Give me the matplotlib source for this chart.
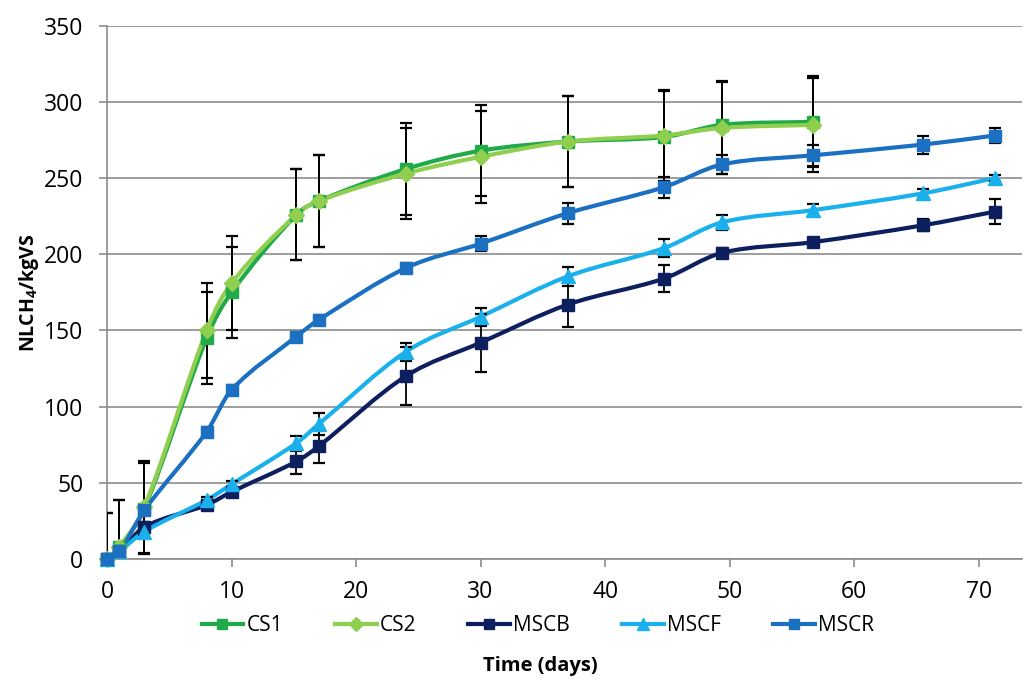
import numpy as np
import matplotlib
matplotlib.use("Agg")
import matplotlib.pyplot as plt
from matplotlib.path import Path
from matplotlib.patches import PathPatch
from matplotlib.lines import Line2D

plt.rcParams['font.family'] = ['Open Sans', 'DejaVu Sans']
plt.rcParams['mathtext.default'] = 'regular'

# sampling days
days_cs = [0, 1, 3, 8, 10, 15.2, 17, 24, 30, 37, 44.7, 49.4, 56.7]
days_ms = [0, 1, 3, 8, 10, 15.2, 17, 24, 30, 37, 44.7, 49.4, 56.7, 65.5, 71.3]

cs1 = [0, 8, 33, 145, 175, 226, 235, 256, 268, 274, 277, 285, 287]
cs1_err = [30, 31, 30, 30, 30, 30, 30, 30, 30, 30, 30, 29, 30]
cs2 = [0, 8, 34, 150, 181, 226, 235, 253, 264, 274, 278, 283, 285]
cs2_err = [30, 31, 30, 31, 31, 30, 30, 30, 30, 30, 30, 30, 31]

mscb = [0, 5, 21, 35.5, 44, 64, 74, 120, 142, 167, 184, 201, 208, 219, 228]
mscb_err = [0, 2, 3, 3, 3, 8, 11, 19, 19, 15, 9, 3, 3, 4, 8]
mscf = [0, 5, 18, 38.7, 49, 76, 88.5, 136, 159, 185.5, 204, 221, 229, 240, 250]
mscf_err = [0, 2, 2, 2, 2, 5, 7, 6, 6, 6, 6, 5, 4, 3, 2]
mscr = [0, 5, 32, 83.5, 111, 146, 157, 191, 207, 227, 244, 259, 265, 272, 278]
mscr_err = [0, 2, 3, 3, 3, 3, 3, 3, 5, 7, 7, 6, 7, 6, 5]

series = [
    ('CS1', days_cs, cs1, cs1_err, '#20AA4A', 's'),
    ('CS2', days_cs, cs2, cs2_err, '#90CE50', 'D'),
    ('MSCB', days_ms, mscb, mscb_err, '#0D1F5E', 's'),
    ('MSCF', days_ms, mscf, mscf_err, '#1AB0EC', '^'),
    ('MSCR', days_ms, mscr, mscr_err, '#1B70C2', 's'),
]


def smooth_path(x, y):
    # smoothed line like excel: one cubic bezier per segment
    x = np.asarray(x, float)
    y = np.asarray(y, float)
    n = len(x)
    slope = np.empty(n)
    slope[0] = (y[1] - y[0]) / (x[1] - x[0])
    slope[-1] = (y[-1] - y[-2]) / (x[-1] - x[-2])
    slope[1:-1] = (y[2:] - y[:-2]) / (x[2:] - x[:-2])
    verts = [(x[0], y[0])]
    codes = [Path.MOVETO]
    for i in range(n - 1):
        h = (x[i + 1] - x[i]) / 3.0
        verts += [(x[i] + h, y[i] + slope[i] * h),
                  (x[i + 1] - h, y[i + 1] - slope[i + 1] * h),
                  (x[i + 1], y[i + 1])]
        codes += [Path.CURVE4] * 3
    return Path(verts, codes)


fig = plt.figure(figsize=(10.26, 6.8), dpi=100)
ax = fig.add_axes([0.1043, 0.178, 0.892, 0.784])

handles = []
for name, x, y, err, color, mk in series:
    ax.add_patch(PathPatch(smooth_path(x, y), fill=False, edgecolor=color,
                           lw=3.0, zorder=3, clip_on=False))
    ax.errorbar(x, y, yerr=err, fmt='none', ecolor='black', elinewidth=1.3,
                capsize=4.5, capthick=1.6, zorder=4)
    ms = 9 if mk == 's' else (10 if mk == '^' else 8.5)
    ax.plot(x, y, ls='none', marker=mk, ms=ms, color=color, zorder=5, clip_on=False)
    handles.append(Line2D([], [], color=color, lw=3.0, marker=mk, ms=ms * 0.85))

ax.set_xlim(0, 73.5)
ax.set_ylim(0, 350)
ax.set_xticks(np.arange(0, 71, 10))
ax.set_yticks(np.arange(0, 351, 50))
ax.yaxis.grid(True, color='#8c8c8c', lw=1.2)
ax.set_axisbelow(True)
for s in ['top', 'right']:
    ax.spines[s].set_visible(False)
for s in ['left', 'bottom']:
    ax.spines[s].set_color('#8c8c8c')
    ax.spines[s].set_linewidth(1.2)
ax.tick_params(axis='both', colors='#8c8c8c', length=6, width=1.2,
               labelsize=16.5, labelcolor='black')
ax.tick_params(axis='x', pad=9)
ax.tick_params(axis='y', pad=11)

ax.set_ylabel('NLCH$_4$/kgVS', fontsize=14, fontweight='bold', labelpad=2)

fig.legend(handles, [s[0] for s in series], loc='center', ncol=5,
           bbox_to_anchor=(0.524, 0.08), frameon=False, fontsize=15,
           handlelength=2.0, handletextpad=0.15, columnspacing=2.5)
fig.text(0.527, 0.021, 'Time (days)', ha='center', va='center',
         fontsize=14.5, fontweight='bold')

fig.savefig('out.png', dpi=100)
